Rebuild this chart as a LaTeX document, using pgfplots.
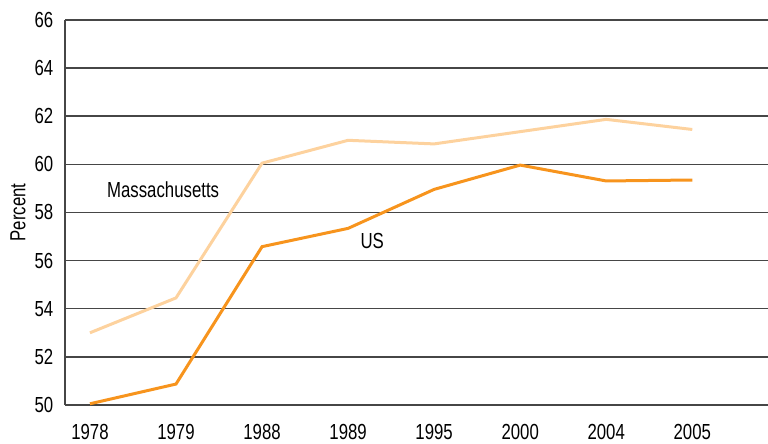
\documentclass[border=0pt]{standalone}
\usepackage{fontspec}
\setmainfont{Liberation Sans}[FakeStretch=0.77]
\usepackage{pgfplots}
\pgfplotsset{compat=1.18}
\definecolor{usorange}{RGB}{247,148,29}
\definecolor{maorange}{RGB}{253,210,158}
\definecolor{gridgray}{RGB}{70,70,70}

\begin{document}
\fontsize{10.9}{13}\selectfont
\begin{tikzpicture}
\path[use as bounding box] (-32.5pt,-19.5pt) rectangle (351.5pt,202.5pt);
\begin{axis}[
  scale only axis,
  width=351.5pt, height=192.5pt,
  xmin=-0.29, xmax=7.88,
  ymin=50, ymax=66,
  xtick={0,...,7},
  xticklabels={1978,1979,1988,1989,1995,2000,2004,2005},
  ytick={50,52,...,66},
  axis lines*=left,
  axis line style={draw=gridgray, line width=0.75pt},
  ymajorgrids,
  grid style={draw=gridgray, line width=0.75pt},
  major tick length=0pt,
  tick label style={font=\fontsize{10.9}{13}\selectfont},
  /pgf/number format/assume math mode=true,
  yticklabel style={xshift=-2pt},
  xticklabel style={yshift=-6pt},
  clip=false,
]
\addplot[draw=maorange, line width=1.5pt] coordinates {
  (0,53.0) (1,54.45) (2,60.05) (3,61.0) (4,60.85) (5,61.36) (6,61.87) (7,61.45)};
\addplot[draw=usorange, line width=1.5pt] coordinates {
  (0,50.05) (1,50.87) (2,56.58) (3,57.34) (4,58.96) (5,59.97) (6,59.31) (7,59.35)};
\node at (axis cs:0.85,58.93) {Massachusetts};
\node at (axis cs:3.28,56.81) {US};
\node[rotate=90] at ([xshift=-23.5pt]rel axis cs:0,0.5) {Percent};
\end{axis}
\end{tikzpicture}
\end{document}
